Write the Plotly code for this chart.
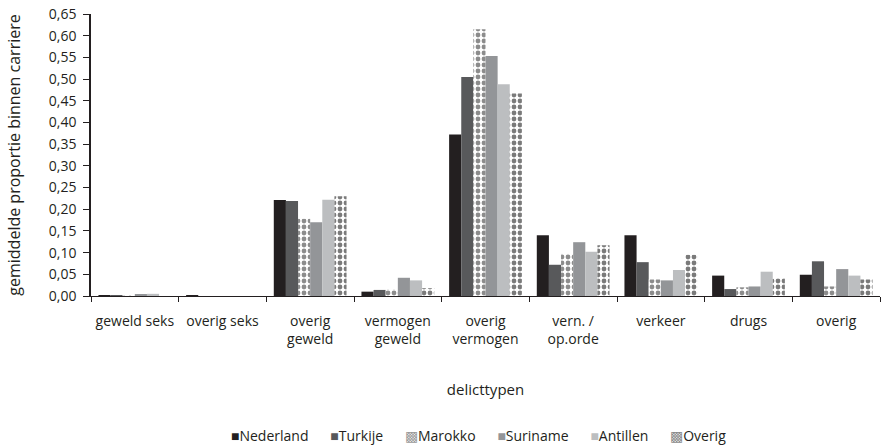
import plotly.graph_objects as go

categories = ["geweld seks", "overig seks", "overig<br>geweld", "vermogen<br>geweld",
              "overig<br>vermogen", "vern. /<br>op.orde", "verkeer", "drugs", "overig"]
series_names = ["Nederland", "Turkije", "Marokko", "Suriname", "Antillen", "Overig"]
nederland = [0.002, 0.002, 0.221, 0.010, 0.372, 0.140, 0.140, 0.047, 0.049]
turkije   = [0.001, 0.000, 0.219, 0.014, 0.505, 0.072, 0.078, 0.016, 0.080]
marokko   = [0.002, 0.000, 0.178, 0.015, 0.615, 0.097, 0.038, 0.020, 0.022]
suriname  = [0.004, 0.000, 0.170, 0.042, 0.553, 0.124, 0.036, 0.022, 0.062]
antillen  = [0.005, 0.000, 0.222, 0.036, 0.488, 0.102, 0.060, 0.056, 0.047]
overig    = [0.000, 0.000, 0.230, 0.018, 0.467, 0.117, 0.095, 0.041, 0.038]
yticks = [0.0, 0.05, 0.10, 0.15, 0.20, 0.25, 0.30, 0.35, 0.40, 0.45, 0.50, 0.55, 0.60, 0.65]
ytick_labels = ["0,00", "0,05", "0,10", "0,15", "0,20", "0,25", "0,30", "0,35", "0,40",
                "0,45", "0,50", "0,55", "0,60", "0,65"]

values = [nederland, turkije, marokko, suriname, antillen, overig]
colors = ["#231f20", "#58595b", None, "#939598", "#bcbec0", None]
pattern_fg = {2: "#8c8c8c", 5: "#7a7a7a"}
legend_colors = ["#231f20", "#58595b", "#9a9a9a", "#939598", "#bcbec0", "#8a8a8a"]
legend_glyphs = ["■", "■", "▩", "■", "■", "▩"]

fig = go.Figure()
for i, (name, vals) in enumerate(zip(series_names, values)):
    if colors[i] is not None:
        marker = dict(color=colors[i], line=dict(width=0))
    else:
        marker = dict(color="white", line=dict(width=0),
                      pattern=dict(shape=".", fgcolor=pattern_fg[i], bgcolor="white",
                                   size=6, solidity=0.5, fillmode="replace"))
    fig.add_trace(go.Bar(name=name, x=categories, y=vals, marker=marker, showlegend=False))

legend_text = "&nbsp;" * 6
legend_text = legend_text.join(
    f'<span style="color:{c}">{g}</span>{n}'
    for c, g, n in zip(legend_colors, legend_glyphs, series_names))

fig.update_layout(
    width=889, height=445,
    margin=dict(l=91, r=9, t=14, b=149),
    paper_bgcolor="white", plot_bgcolor="white",
    barmode="group", bargap=0.17, bargroupgap=0,
    font=dict(family="Open Sans", size=14, color="#231f20"),
    annotations=[dict(text=legend_text, xref="paper", yref="paper", x=0.491, y=-0.496,
                      xanchor="center", yanchor="middle", showarrow=False,
                      font=dict(size=14, color="#231f20"))],
)
fig.update_xaxes(
    showline=True, linecolor="#231f20", linewidth=1.2,
    ticks="outside", ticklen=5, tickcolor="#231f20", tickson="boundaries",
    title=dict(text="delicttypen", font=dict(size=15), standoff=37),
    tickfont=dict(size=14), tickangle=0, ticklabelstandoff=12, automargin=False,
)
fig.update_yaxes(
    range=[0, 0.65], tickvals=yticks, ticktext=ytick_labels,
    showline=True, linecolor="#231f20", linewidth=1.5,
    ticks="outside", ticklen=6, tickcolor="#231f20",
    showgrid=False, zeroline=False,
    title=dict(text="gemiddelde proportie binnen carriere", font=dict(size=16), standoff=24),
    tickfont=dict(size=14), ticklabelstandoff=4, ticklabeloverflow="allow", automargin=False,
)
# remove the page's default 8px body margin so the figure fills the window exactly
fig.write_html("out.html", config={"displayModeBar": False},
               post_script="document.body.style.margin='0px';")
